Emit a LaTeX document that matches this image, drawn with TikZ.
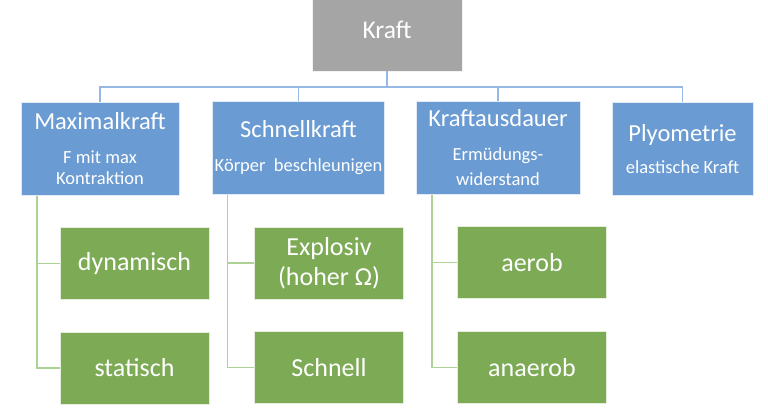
\documentclass[tikz,border=0pt]{standalone}
\usepackage{fontspec}
\setmainfont{Carlito}
\usepackage{xcolor}
\usepackage{tikz}
\usetikzlibrary{positioning}
\definecolor{kgray}{HTML}{A5A5A5}
\definecolor{kblue}{HTML}{6A9BD2}
\definecolor{kblueline}{HTML}{95B9E4}
\definecolor{kgreen}{HTML}{7DAA55}
\definecolor{kgreenline}{HTML}{AED293}
\newcommand\titel[1]{{\fontsize{24.5}{29}\selectfont #1}}
\tikzset{top/.style={rectangle,fill=kgray,draw=white!85!kgray,line width=0.6pt,text=white,minimum width=150pt,minimum height=82pt,font=\fontsize{25.5}{30}\selectfont},
  cat/.style={rectangle,fill=kblue,draw=white!80!kblue,line width=0.6pt,text=white,align=center,minimum height=93pt,inner sep=2pt,font=\fontsize{18.5}{21}\selectfont},
  sub/.style={rectangle,fill=kgreen,draw=white!80!kgreen,line width=0.6pt,text=white,align=center,minimum width=149pt,minimum height=72pt,font=\fontsize{26}{30}\selectfont},
  bline/.style={draw=kblueline,line width=1.7pt},
  gline/.style={draw=kgreenline,line width=1.7pt}}

\begin{document}
\begin{tikzpicture}[x=1pt,y=-1pt]
        \useasboundingbox (0,0) rectangle (768,411);

        \node[top] (kraft) at (387,30) {Kraft};

        \node[cat,minimum width=158pt] (maxk) at (100,149) {\titel{Maximalkraft}\\[13pt]F mit max\\Kontraktion};
        \node[cat,minimum width=171pt] (schk) at (298.5,148) {\titel{Schnellkraft}\\[13pt]Körper~ beschleunigen};
        \node[cat,minimum width=164pt] (ausd) at (498,148) {\titel{Kraftausdauer}\\[13pt]Ermüdungs-\\[4pt]widerstand};
        \node[cat,minimum width=141pt] (plyo) at (682.5,149) {\titel{Plyometrie}\\[11pt]elastische Kraft};

        \node[sub] (dyn) at (134.5,263.5) {dynamisch};
        \node[sub] (stat) at (134.5,368) {statisch};
        \node[sub] (expl) at (329,263) {Explosiv\\(hoher Ω)};
        \node[sub] (schn) at (329,367.5) {Schnell};
        \node[sub] (aer) at (532,262.5) {aerob};
        \node[sub] (anae) at (532,367.5) {anaerob};

        \draw[bline] (kraft.south) -- ++(0,16) -| (maxk.north);
        \draw[bline] (kraft.south) -- ++(0,16) -| (schk.north);
        \draw[bline] (kraft.south) -- ++(0,16) -| (ausd.north);
        \draw[bline] (kraft.south) -- ++(0,16) -| (plyo.north);

        \draw[gline] ([xshift=16pt]maxk.south west) |- (dyn.west);
        \draw[gline] ([xshift=16pt]maxk.south west) |- (stat.west);
        \draw[gline] ([xshift=15pt]schk.south west) |- (expl.west);
        \draw[gline] ([xshift=15pt]schk.south west) |- (schn.west);
        \draw[gline] ([xshift=16pt]ausd.south west) |- (aer.west);
        \draw[gline] ([xshift=16pt]ausd.south west) |- (anae.west);
    \end{tikzpicture}
\end{document}
